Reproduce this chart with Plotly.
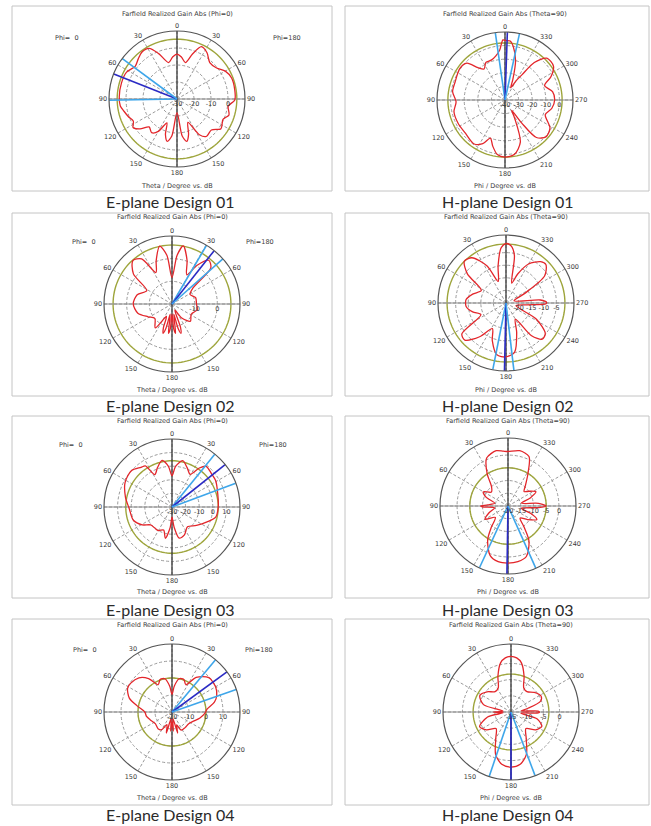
import numpy as np
import plotly.graph_objects as go

# ---------------- data ----------------
# E-plane cuts: theta in display degrees (clockwise from top, negative = Phi=0 side), gain in dB
E1_THETA = [-180, -172, -167, -162, -157, -150, -143, -135, -129, -123, -117, -110, -103, -97, -88, -74, -62, -52, -44, -37, -29, -22, -13, -6, 0,
            6, 13, 19, 25, 33, 42, 52, 60, 69, 81, 91, 98, 107, 114, 124, 132, 142, 148, 155, 162, 167, 172, 180]
E1_GAIN = [-22, -8, -4.4, -8, -14.8, -8, -5.2, -6.8, -2, 0.8, -1.2, 0.4, 2, 3.6, 4, 4, 3.6, 1.2, 2.8, 4.4, 4, -1.2, -8, -5.2, -3.6,
           -5.2, -8, -2, 4, 2.4, -1.2, -0.4, 2.8, 4.4, 4.4, 4, 0.4, 2, -0.4, 1.2, -2.8, -2, -5.2, -14.8, -8, -4.4, -8, -22]
E1_BEAMS = [-91, -68.4, -53.5]
E1_GREEN = 5.2

E2_THETA = [-180, -176, -173, -170, -166, -163, -160, -156, -145, -130, -118, -105, -90, -75, -62, -52, -42, -34, -27, -20, -12, -6, 0,
            6, 11, 19, 27, 33, 40, 47, 53, 62, 75, 90, 103, 118, 133, 145, 155, 160, 163, 166, 170, 173, 176, 180]
E2_GAIN = [-15.5, -9, -7, -15.5, -9, -6.5, -9, -14, -7.1, -10.1, -8, -4.4, -2.9, -4.1, -7.4, 1.6, 5.8, 4, -4.4, 0.4, 6.1, 1.6, -8.3,
           1.6, 6.1, 0.4, -5.6, 0.4, 5.2, 3.4, -8.6, -11, -9.2, -9.2, -8.6, -10.4, -8.9, -12.5, -17, -9, -6.5, -9, -15.5, -7, -9, -15.5]
E2_BEAMS = [30.5, 38.3, 48.4]
E2_GREEN = 6.0

E3_THETA = [-180, -175, -168, -160, -150, -140, -130, -121, -109, -92, -78, -62, -48, -38, -33, -28, -20, -12, -5, 0,
            5, 13, 21, 29, 35, 40, 50, 59, 74, 90, 103, 113, 127, 142, 156, 167, 174, 180]
E3_GAIN = [-22.5, -15, -6.5, -12, -10, -10, -9.5, -4.5, 0, 1.5, 5, 9, 10, 7, 6, -3, 1, 5, 0, -7,
           0, 5, 1, -2.5, 5, 9, 8, 7.5, 5, 4, 3, -2, -7.5, -11.5, -7.5, -6.5, -15, -22.5]
E3_BEAMS = [39, 51.4, 69.5]
E3_GREEN = 4.0

E4_THETA = [-180, -176, -172, -165, -158, -150, -140, -125, -110, -100, -90, -80, -72, -62, -55, -44, -35, -27, -20, -12, -5, 0,
            5, 12, 20, 27, 35, 47, 60, 70, 77, 85, 93, 102, 112, 125, 140, 153, 160, 165, 172, 176, 180]
E4_GAIN = [-14, -8.8, -16, -7.2, -12, -8, -7.2, -8, -6.4, -4.8, -4, 0.8, 6.4, 9.6, 9.6, 8, 4, -2, 0.4, 0, -4.8, -9.6,
           -4.8, 0, 0.4, -2, 4.8, 9.6, 9.6, 8, 5.6, 0.8, -0.8, -3.2, -6, -8, -8, -8, -12, -7.2, -16, -8.8, -14]
E4_BEAMS = [39.8, 53.9, 70.7]
E4_GREEN = 0.0

# H-plane cuts: phi in degrees (counterclockwise from top), gain in dB
H1_PHI = [0, 2, 6, 12, 19, 27, 34, 40, 46, 55, 70, 81, 92, 103, 117, 130, 145, 153, 159, 165, 172, 180, 190, 200,
          208, 213, 216, 220, 228, 238, 250, 260, 270, 280, 290, 297, 305, 315, 322, 326, 330, 335, 339, 345, 351, 355, 360]
H1_GAIN = [3.75, 4.25, -3, -7, -9, -9, -12.5, -9, -1, 0.5, -1, -1, -4, -1.5, -1.5, -2, -0.5, -4, -10, -5, 0.5, 2, 0.5, -7,
           -25, -31, -19, -4, 0.5, -1, -8.5, -5, -3.5, -4.5, -9, -2, 3.5, 3.5, -5, -17.5, -23.5, -30, -24, -10, -0.5, 3.5, 3.75]
H1_BEAMS = [8.2, 358, 347.7]
H1_GREEN = 2.0

H2_PHI = [0, 5, 12, 20, 27, 37, 45, 53, 63, 75, 85, 95, 105, 115, 125, 132, 142, 152, 160, 170, 180, 190, 200, 210,
          218, 225, 232, 242, 255, 265, 269, 271, 275, 285, 297, 305, 314, 320, 330, 338, 344, 350, 355, 360]
H2_GAIN = [-1.4, -3, -9.9, -15.9, -8.5, -2.5, -1.6, -5.8, -14, -11.3, -9.1, -9.1, -11.3, -14, -3.6, -3, -8, -13.5, -9.1, -4.1, -3.6, -5.2, -12.6, -17.6,
           -8.5, -4.7, -5.2, -11.3, -20.9, -16.8, -9.1, -8.9, -11.3, -21.7, -16.8, -6.3, -3, -3.6, -7.1, -12.6, -16.8, -5.8, -2.2, -1.4]
H2_BEAMS = [168.8, 178.7, 186.7]
H2_GREEN = -1.6

H3_PHI = [0, 5, 12, 24, 33, 40, 50, 60, 68, 78, 87, 90, 92, 98, 110, 120, 132, 142, 149, 160, 170, 180,
          190, 200, 211, 217, 225, 235, 245, 252, 260, 267, 270, 275, 282, 290, 297, 305, 312, 320, 328, 337, 348, 360]
H3_GAIN = [1.4, 1.6, 2.2, 0.6, -5, -9.9, -11.5, -8.8, -10.7, -14.7, -12, -9.3, -9.9, -14.7, -12, -9.6, -13.3, -9.3, -4.5, 0.6, 2.2, 2.4,
           2.2, 1.1, -4, -9.3, -13.3, -10.7, -7.5, -10.7, -14.7, -8, -5, -8, -14.7, -10.7, -7.7, -9.9, -11.5, -9.3, -5.3, 1.1, 2.2, 1.4]
H3_BEAMS = [155.2, 179.1, 204.1]
H3_GREEN = -5.0

H4_PHI = [0, 6, 12, 20, 28, 38, 50, 62, 75, 84, 90, 96, 102, 115, 126, 138, 150, 160, 170, 180,
          190, 200, 210, 222, 234, 245, 255, 263, 268, 270, 272, 276, 282, 290, 298, 310, 322, 332, 340, 348, 354, 360]
H4_GAIN = [2.2, 1.8, 0.5, -3.2, -6.6, -7, -5.3, -4.1, -6.2, -12.5, -9.5, -12.5, -7.6, -4.3, -5.6, -8.1, -5.6, -1.1, 1.4, 2,
           1.4, -1.1, -5.6, -8.1, -5.6, -4.5, -6.6, -11.9, -6.6, -6.2, -6.6, -11.9, -9.8, -5.3, -4.5, -5.6, -7, -6.6, -3.2, 0.5, 1.8, 2.2]
H4_BEAMS = [161.3, 180, 200.7]
H4_GREEN = -3.3

E_TICKTEXT = ["0", "30", "60", "90", "120", "150", "180", "150", "120", "90", "60", "30"]
H_TICKTEXT = ["0", "30", "60", "90", "120", "150", "180", "210", "240", "270", "300", "330"]
CAPTIONS = ["E-plane Design 01", "H-plane Design 01", "E-plane Design 02", "H-plane Design 02",
            "E-plane Design 03", "H-plane Design 03", "E-plane Design 04", "H-plane Design 04"]

# ---------------- styling / layout ----------------
W, H = 651, 826

RED = "#e3262b"
GREEN = "#9ea53c"
LBLUE = "#3ea6ea"
DBLUE = "#2b2bc4"
R = 68

panels = [
    dict(plane="E", th=E1_THETA, g=E1_GAIN, beams=E1_BEAMS, green=E1_GREEN, rng=(-30, 10), ticks=[-30, -20, -10, 0], cx=177, cy=99),
    dict(plane="H", th=H1_PHI, g=H1_GAIN, beams=H1_BEAMS, green=H1_GREEN, rng=(-40, 10), ticks=[-40, -30, -20, -10, 0], cx=505, cy=100),
    dict(plane="E", th=E2_THETA, g=E2_GAIN, beams=E2_BEAMS, green=E2_GREEN, rng=(-20, 10), ticks=[-10, 0], cx=172, cy=304),
    dict(plane="H", th=H2_PHI, g=H2_GAIN, beams=H2_BEAMS, green=H2_GREEN, rng=(-25, 2), ticks=[-20, -15, -10, -5], cx=506, cy=303),
    dict(plane="E", th=E3_THETA, g=E3_GAIN, beams=E3_BEAMS, green=E3_GREEN, rng=(-30, 20), ticks=[-30, -20, -10, 0, 10], cx=172, cy=507),
    dict(plane="H", th=H3_PHI, g=H3_GAIN, beams=H3_BEAMS, green=H3_GREEN, rng=(-20, 6.7), ticks=[-20, -15, -10, -5, 0], cx=508, cy=506),
    dict(plane="E", th=E4_THETA, g=E4_GAIN, beams=E4_BEAMS, green=E4_GREEN, rng=(-20, 20), ticks=[-20, -10, 0, 10], cx=172, cy=712),
    dict(plane="H", th=H4_PHI, g=H4_GAIN, beams=H4_BEAMS, green=H4_GREEN, rng=(-15, 6), ticks=[-15, -10, -5, 0], cx=511, cy=712),
]

box_rows = [(6, 191), (213, 396), (416, 598), (619, 805)]
caption_y = [201, 405, 609, 814]
title_y = [14, 217, 421, 625]
xlabel_y = [186, 390, 592, 798]
phi_lbl_y = [38, 242, 445, 650]
phi_lbl_dx = [110, 88, 101, 87]
col_box = [(12, 332), (345, 649)]

SMALL = dict(family="DejaVu Sans", size=6.5, color="#3a3a3a")
GRIDDASH = "3px,2px"

fig = go.Figure()
shapes = []
annotations = []


def px(x):
    return x / W


def py(y):
    return 1 - y / H


full_circle = np.linspace(0, 360, 121)

for i, p in enumerate(panels):
    sub = "polar" if i == 0 else f"polar{i+1}"
    rmin, rmax = p["rng"]
    row, col = divmod(i, 2)

    # green reference circle
    fig.add_trace(go.Scatterpolar(r=[p["green"]] * len(full_circle), theta=full_circle, mode="lines",
                                  line=dict(color=GREEN, width=1.4), subplot=sub, showlegend=False, hoverinfo="skip"))
    # main axes cross
    fig.add_trace(go.Scatterpolar(r=[rmax, rmin, rmax], theta=[90, 90, 270], mode="lines",
                                  line=dict(color="#8a8a8a", width=1.1), subplot=sub, showlegend=False, hoverinfo="skip"))
    fig.add_trace(go.Scatterpolar(r=[rmax, rmin, rmax], theta=[0, 0, 180], mode="lines",
                                  line=dict(color="#3a3a3a", width=1.3), subplot=sub, showlegend=False, hoverinfo="skip"))
    # red pattern
    fig.add_trace(go.Scatterpolar(r=p["g"], theta=p["th"], mode="lines",
                                  line=dict(color=RED, width=1.3, shape="spline", smoothing=0.8),
                                  subplot=sub, showlegend=False))
    # beam direction and 3 dB lines
    for k, ang in enumerate(p["beams"]):
        fig.add_trace(go.Scatterpolar(r=[rmin, rmax], theta=[ang, ang], mode="lines",
                                      line=dict(color=DBLUE if k == 1 else LBLUE, width=1.6),
                                      subplot=sub, showlegend=False, hoverinfo="skip"))

    cx, cy = p["cx"], p["cy"]
    polar_layout = dict(
        domain=dict(x=[px(cx - R), px(cx + R)], y=[py(cy + R), py(cy - R)]),
        bgcolor="white",
        radialaxis=dict(range=[rmin, rmax], tickvals=p["ticks"], ticktext=[str(t) for t in p["ticks"]],
                        angle=0, side="clockwise", tickangle=0, showline=False, ticks="",
                        gridcolor="#9a9a9a", griddash=GRIDDASH, gridwidth=1,
                        tickfont=SMALL),
        angularaxis=dict(rotation=90, direction="clockwise" if p["plane"] == "E" else "counterclockwise",
                         tickmode="array", tickvals=list(range(0, 360, 30)),
                         ticktext=E_TICKTEXT if p["plane"] == "E" else H_TICKTEXT,
                         showline=True, linecolor="#555555", linewidth=1.2, ticks="",
                         gridcolor="#9a9a9a", griddash=GRIDDASH, gridwidth=1,
                         tickfont=SMALL),
    )
    fig.update_layout(**{sub: polar_layout})

    # frame box
    x0, x1 = col_box[col]
    y0, y1 = box_rows[row]
    shapes.append(dict(type="rect", xref="paper", yref="paper", x0=px(x0), x1=px(x1), y0=py(y1), y1=py(y0),
                       line=dict(color="#c4c4c4", width=1), layer="below"))

    title = "Farfield Realized Gain Abs (Phi=0)" if p["plane"] == "E" else "Farfield Realized Gain Abs (Theta=90)"
    xlabel = "Theta / Degree vs. dB" if p["plane"] == "E" else "Phi / Degree vs. dB"
    annotations.append(dict(x=px(cx), y=py(title_y[row]), xref="paper", yref="paper", text=title,
                            showarrow=False, font=SMALL, xanchor="center", yanchor="middle"))
    annotations.append(dict(x=px(cx), y=py(xlabel_y[row]), xref="paper", yref="paper", text=xlabel,
                            showarrow=False, font=SMALL, xanchor="center", yanchor="middle"))
    if p["plane"] == "E":
        d = phi_lbl_dx[row]
        annotations.append(dict(x=px(cx - d), y=py(phi_lbl_y[row]), xref="paper", yref="paper", text="Phi=  0",
                                showarrow=False, font=SMALL, xanchor="center", yanchor="middle"))
        annotations.append(dict(x=px(cx + d), y=py(phi_lbl_y[row]), xref="paper", yref="paper", text="Phi=180",
                                showarrow=False, font=SMALL, xanchor="center", yanchor="middle"))
    cap_x = 171 if col == 0 else 508
    annotations.append(dict(x=px(cap_x), y=py(caption_y[row]), xref="paper", yref="paper", text=CAPTIONS[i],
                            showarrow=False, font=dict(family="Lato", size=16, color="#2a2a2a"),
                            xanchor="center", yanchor="middle"))

fig.update_layout(width=W, height=H, margin=dict(l=0, r=0, t=0, b=0),
                  paper_bgcolor="white", plot_bgcolor="white",
                  shapes=shapes, annotations=annotations, showlegend=False)

# remove the default 8px page margin so the 651x826 figure fills the window exactly
fig.write_html("out.html", config={"displayModeBar": False},
               post_script="document.body.style.margin='0px';document.body.style.overflow='hidden';")
